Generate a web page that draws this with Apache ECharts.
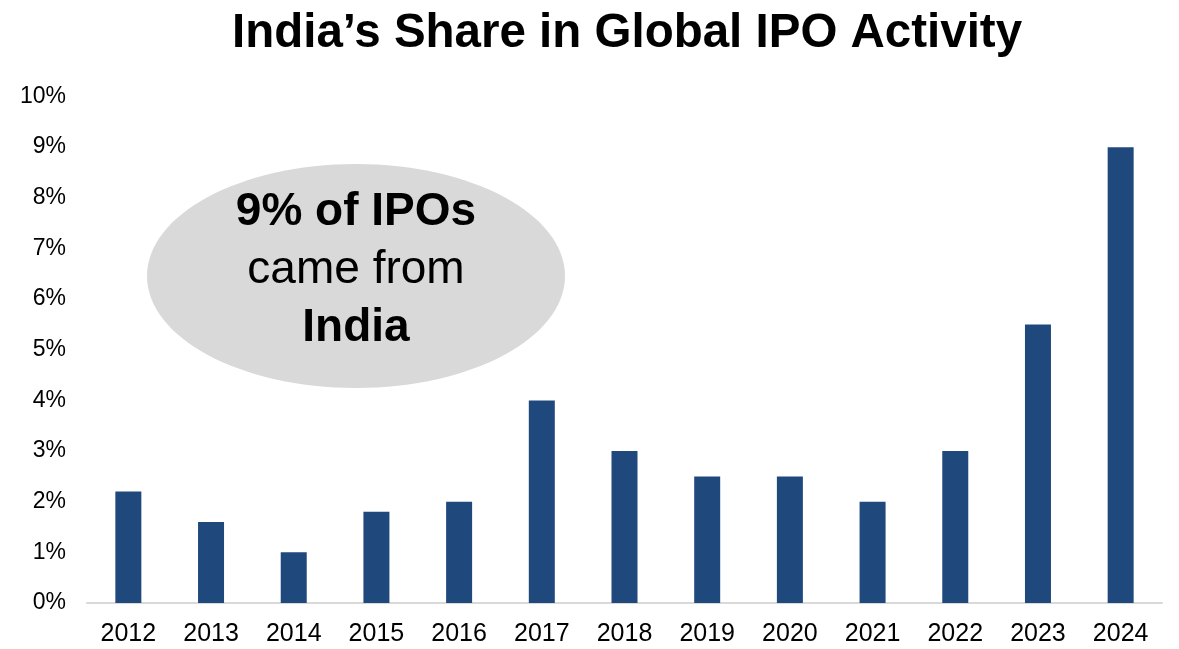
<!DOCTYPE html>
<html>
<head>
<meta charset="utf-8">
<script src="https://cdn.jsdelivr.net/npm/echarts@6/dist/echarts.min.js"></script>
<style>
  html, body { margin: 0; padding: 0; background: #fff; }
  #chart { width: 1179px; height: 649px; }
</style>
</head>
<body>
<div id="chart"></div>
<script>
const years = ['2012', '2013', '2014', '2015', '2016', '2017', '2018', '2019', '2020', '2021', '2022', '2023', '2024'];
const indiaShare = [2.2, 1.6, 1.0, 1.8, 2.0, 4.0, 3.0, 2.5, 2.5, 2.0, 3.0, 5.5, 9.0];
const yTicks = [0, 1, 2, 3, 4, 5, 6, 7, 8, 9, 10];

const font = 'Liberation Sans, Arial, sans-serif';
const chart = echarts.init(document.getElementById('chart'));

chart.setOption({
  animation: false,
  backgroundColor: '#ffffff',
  title: {
    text: 'India’s Share in Global IPO Activity',
    left: 227,
    top: 5,
    textStyle: { fontFamily: font, fontSize: 47.5, fontWeight: 'bold', color: '#000' },
  },
  grid: { left: 87, right: 17, top: 96.5, bottom: 46 },
  xAxis: {
    type: 'category',
    data: years,
    axisLine: { lineStyle: { color: '#d9d9d9', width: 2 } },
    axisTick: { show: false },
    axisLabel: { color: '#000', fontFamily: font, fontSize: 25, margin: 19 },
  },
  yAxis: {
    type: 'value',
    min: yTicks[0],
    max: yTicks[yTicks.length - 1],
    interval: 1,
    splitLine: { show: false },
    axisLine: { show: false },
    axisTick: { show: false },
    axisLabel: {
      color: '#000', fontFamily: font, fontSize: 23, margin: 21,
      padding: [2, 0, 0, 0],
      formatter: (v) => v + '%',
    },
  },
  graphic: [
    {
      type: 'ellipse',
      shape: { cx: 356, cy: 276, rx: 209, ry: 112 },
      style: { fill: '#d9d9d9' },
      z: 0,
    },
    {
      type: 'text',
      x: 356,
      y: 270,
      z: 1,
      style: {
        text: '{b|9% of IPOs}\n{n|came from}\n{b|India}',
        align: 'center',
        verticalAlign: 'middle',
        rich: {
          b: { fontFamily: font, fontSize: 46, fontWeight: 'bold', color: '#000', lineHeight: 58 },
          n: { fontFamily: font, fontSize: 46, color: '#000', lineHeight: 58 },
        },
      },
    },
  ],
  series: [{
    type: 'bar',
    data: indiaShare,
    barWidth: 26,
    itemStyle: { color: '#1f497d' },
    z: 2,
  }],
});
</script>
</body>
</html>
